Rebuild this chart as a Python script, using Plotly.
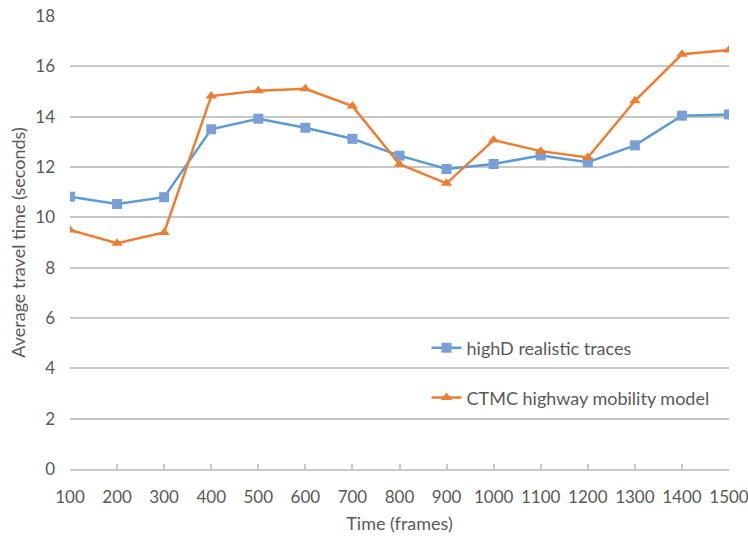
import plotly.graph_objects as go

# Data
frames = [100, 200, 300, 400, 500, 600, 700, 800, 900, 1000, 1100, 1200, 1300, 1400, 1500]
highd = [10.82, 10.53, 10.80, 13.50, 13.92, 13.56, 13.12, 12.45, 11.92, 12.12, 12.46, 12.19, 12.86, 14.04, 14.09]
ctmc = [9.50, 8.97, 9.40, 14.82, 15.03, 15.11, 14.42, 12.11, 11.35, 13.07, 12.63, 12.38, 14.63, 16.48, 16.65]
y_ticks = [0, 2, 4, 6, 8, 10, 12, 14, 16, 18]

FONT = "Lato, 'Open Sans', sans-serif"
GREY = "#595959"
GRID = "#c8c8c8"

fig = go.Figure()
fig.add_trace(go.Scatter(
    x=frames, y=highd, name="highD realistic traces", mode="lines+markers",
    line=dict(color="#5b9bd5", width=2.5),
    marker=dict(symbol="square", size=10, color="#7a9fd8"),
    legend="legend",
))
fig.add_trace(go.Scatter(
    x=frames, y=ctmc, name="CTMC highway mobility model", mode="lines+markers",
    line=dict(color="#ed7d31", width=2.5),
    marker=dict(symbol="triangle-up", size=10, color="#ed7d31"),
    legend="legend2",
))

legend_style = dict(
    xref="paper", yref="paper", xanchor="left", yanchor="middle",
    bgcolor="rgba(0,0,0,0)", font=dict(family=FONT, size=18, color=GREY),
    itemwidth=30,
)

fig.update_layout(
    width=748, height=536,
    margin=dict(l=70, r=19, t=16, b=67),
    paper_bgcolor="white", plot_bgcolor="white",
    font=dict(family=FONT, size=16, color=GREY),
    showlegend=True,
    legend=dict(x=0.541, y=0.267, **legend_style),
    legend2=dict(x=0.541, y=0.157, **legend_style),
    xaxis=dict(
        range=[100, 1500], tickvals=frames, ticktext=[str(f) for f in frames],
        showgrid=False, zeroline=False, automargin=False,
        showline=True, linecolor=GRID, linewidth=1.5,
        ticks="inside", ticklen=5, tickcolor=GRID, tickwidth=1.5,
        tickfont=dict(size=17, color=GREY), ticklabelstandoff=12,
        ticklabeloverflow="allow",
        title=dict(text="Time (frames)", font=dict(size=18, color=GREY), standoff=11),
    ),
    yaxis=dict(
        range=[0, 18], tickvals=y_ticks,
        showgrid=True, gridcolor=GRID, gridwidth=1.5,
        zeroline=False, showline=False, ticks="", automargin=False,
        tickfont=dict(size=17, color=GREY), ticklabelstandoff=14,
        title=dict(text="Average travel time (seconds)", font=dict(size=18, color=GREY), standoff=4),
    ),
)

# drop the browser's default 8px body margin so the figure fills the window
fig.write_html("out.html", config={"displayModeBar": False},
               post_script="document.body.style.margin='0';")
